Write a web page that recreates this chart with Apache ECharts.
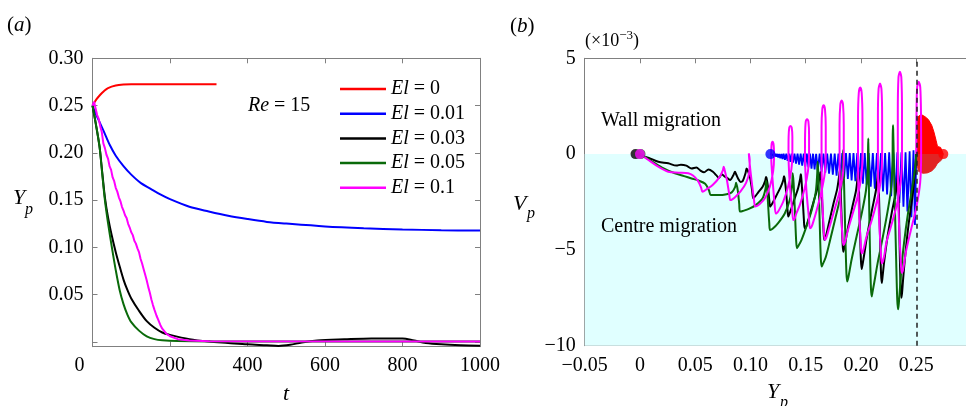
<!DOCTYPE html>
<html>
<head>
<meta charset="utf-8">
<script src="https://cdn.jsdelivr.net/npm/echarts@6/dist/echarts.min.js"></script>
<style>
html, body { margin: 0; padding: 0; background: #fff; }
#main { width: 966px; height: 406px; }
</style>
</head>
<body>
<div id="main"></div>
<script>
// series names / colours (shared by both panels)
var names = ['El = 0', 'El = 0.01', 'El = 0.03', 'El = 0.05', 'El = 0.1'];
var colors = ['#ff0000', '#0000ff', '#000000', '#0a6a0a', '#ff00ff'];

// panel (a): [t, Yp]
var aEl0 = [[0,0.250],[10,0.2565],[20,0.2615],[30,0.2655],[40,0.2685],[60,0.2712],[80,0.2722],[100,0.2725],[200,0.2726],[320,0.2726]];
var aEl001 = [[0,0.250],[5,0.245],[10,0.240],[20,0.231],[30,0.222],[45,0.208],[60,0.197],[80,0.186],[100,0.177],[125,0.168],[150,0.162],[175,0.156],[200,0.151],[250,0.143],[300,0.138],[350,0.1335],[400,0.130],[450,0.127],[500,0.1252],[600,0.1222],[700,0.1203],[800,0.119],[900,0.1182],[1000,0.1178]];
var aEl003 = [[0,0.250],[8,0.232],[18,0.207],[25,0.180],[32,0.153],[40,0.132],[50,0.112],[60,0.095],[70,0.080],[80,0.066],[90,0.055],[100,0.046],[120,0.033],[140,0.022],[160,0.015],[180,0.010],[200,0.0075],[250,0.003],[300,0.0005],[350,-0.001],[400,-0.0025],[450,-0.0035],[480,-0.0042],[510,-0.003],[540,-0.0005],[580,0.0015],[650,0.0028],[720,0.0038],[800,0.0038],[830,0.0015],[860,-0.001],[900,-0.0025],[950,-0.0035],[1000,-0.004]];
var aEl005 = [[0,0.250],[8,0.232],[18,0.207],[25,0.178],[32,0.150],[40,0.126],[50,0.100],[60,0.076],[70,0.055],[80,0.040],[90,0.029],[100,0.021],[120,0.012],[140,0.006],[160,0.003],[180,0.0018],[220,0.001],[300,0.0006],[1000,0.0005]];
var aEl01 = [[0,0.250],[4,0.254],[8,0.247],[12,0.240],[16,0.236],[20,0.228],[24,0.222],[28,0.210],[32,0.205],[36,0.198],[40,0.194],[44,0.186],[48,0.182],[52,0.174],[56,0.170],[60,0.163],[64,0.159],[68,0.153],[72,0.149],[76,0.143],[80,0.139],[84,0.134],[88,0.131],[92,0.125],[96,0.121],[100,0.116],[104,0.113],[108,0.107],[112,0.104],[116,0.099],[120,0.095],[124,0.088],[128,0.083],[132,0.077],[136,0.071],[140,0.065],[144,0.058],[148,0.052],[152,0.045],[156,0.039],[160,0.034],[165,0.028],[170,0.023],[175,0.018],[180,0.014],[190,0.009],[200,0.006],[220,0.003],[250,0.0015],[300,0.0008],[1000,0.0004]];

// panel (a) axis ticks
var aYTicks = [0, 0.05, 0.10, 0.15, 0.20, 0.25, 0.30];
var aYLabels = [0.05, 0.10, 0.15, 0.20, 0.25, 0.30];

// panel (b): [Yp, Vp x1e-3]
var bEl0Up = [[0.2500,0],[0.2503,1.2],[0.2508,1.85],[0.2525,2.0],[0.2550,2.05],[0.2580,1.95],[0.2610,1.8],[0.2640,1.5],[0.2660,1.15],[0.2680,0.7],[0.2692,0.4],[0.2705,0.3],[0.2720,0.35],[0.2735,0.25],[0.2745,0]];
var bEl0Low = [[0.2500,0],[0.2505,-0.5],[0.2520,-0.9],[0.2560,-1.0],[0.2600,-0.98],[0.2640,-0.88],[0.2670,-0.7],[0.2690,-0.5],[0.2710,-0.4],[0.2730,-0.3],[0.2745,0]];
var bEl001 = [[0.2500,0],[0.2488,-3.7],[0.2475,0.2],[0.2456,-3.3],[0.2440,0.15],[0.2420,-3.0],[0.2403,0.1],[0.2384,-2.75],[0.2366,0.1],[0.2347,-2.55],[0.2329,0.1],[0.2310,-2.35],[0.2292,0.1],[0.2273,-2.2],[0.2255,0.1],[0.2236,-2.1],[0.2218,0.05],[0.2199,-1.95],[0.2181,0.05],[0.2162,-1.85],[0.2144,0.05],[0.2125,-1.8],[0.2107,0.05],[0.2088,-1.7],[0.2070,0.05],[0.2051,-1.6],[0.2034,0.05],[0.2017,-1.55],[0.2000,0.05],[0.1983,-1.5],[0.1966,0.05],[0.1949,-1.42],[0.1932,0.05],[0.1915,-1.38],[0.1898,0.05],[0.1881,-1.3],[0.1864,0.05],[0.1847,-1.25],[0.1830,0.05],[0.1813,-1.18],[0.1796,0.03],[0.1779,-1.12],[0.1762,0.03],[0.1745,-1.08],[0.1728,0.03],[0.1711,-1.02],[0.1694,0.03],[0.1677,-0.97],[0.1660,0.03],[0.1643,-0.92],[0.1626,0.03],[0.1609,-0.86],[0.1594,0.02],[0.1580,-0.8],[0.1566,0.02],[0.1552,-0.76],[0.1538,0.02],[0.1524,-0.7],[0.1510,0.02],[0.1496,-0.65],[0.1482,0.02],[0.1468,-0.6],[0.1454,0.02],[0.1440,-0.55],[0.1426,0.02],[0.1412,-0.5],[0.1398,0.02],[0.1384,-0.45],[0.1372,0.02],[0.1360,-0.4],[0.1348,0.02],[0.1336,-0.35],[0.1324,0.02],[0.1312,-0.3],[0.1300,0.02],[0.1290,-0.26],[0.1280,0.01],[0.1270,-0.22],[0.1260,0.01],[0.1251,-0.18],[0.1242,0.01],[0.1233,-0.14],[0.1224,0.01],[0.1215,-0.1],[0.1206,0],[0.1197,-0.06],[0.1188,0],[0.1180,0]];
var bEl003 = [[0.2500,0],[0.2490,-0.8],[0.2468,-2.1],[0.2430,-3.7],[0.2400,-5.3],[0.2380,-6.6],
  [0.2372,-7.2],[0.2366,-7.5],[0.2359,-7.0],[0.2350,-5.0],[0.2342,-2.6],[0.2337,-1.3],[0.2335,-1.0],[0.2331,-1.3],[0.2315,-2.0],[0.2280,-3.0],[0.2240,-4.3],[0.2210,-5.6],[0.2195,-6.4],
  [0.2188,-6.73],[0.2181,-6.2],[0.2172,-4.3],[0.2163,-2.2],[0.2157,-1.1],[0.2155,-0.9],[0.2150,-1.2],[0.2135,-1.9],[0.2100,-2.9],[0.2060,-4.1],[0.2030,-5.2],[0.2013,-5.8],
  [0.2006,-6.0],[0.1999,-5.5],[0.1990,-3.8],[0.1982,-1.9],[0.1977,-1.05],[0.1975,-0.9],[0.1970,-1.2],[0.1955,-1.9],[0.1920,-2.8],[0.1880,-3.9],[0.1855,-4.7],
  [0.1840,-5.1],[0.1833,-4.6],[0.1824,-3.2],[0.1814,-1.6],[0.1810,-0.95],[0.1808,-0.85],[0.1803,-1.1],[0.1785,-1.8],[0.1750,-2.6],[0.1710,-3.6],[0.1682,-4.3],
  [0.1668,-4.48],[0.1661,-4.0],[0.1651,-2.8],[0.1640,-1.4],[0.1633,-0.95],[0.1630,-0.92],[0.1625,-1.2],[0.1605,-1.8],[0.1570,-2.5],[0.1530,-3.3],[0.1503,-3.8],
  [0.1490,-3.87],[0.1483,-3.4],[0.1473,-2.4],[0.1462,-1.4],[0.1457,-1.1],[0.1455,-1.05],[0.1449,-1.3],[0.1430,-1.8],[0.1395,-2.4],[0.1360,-3.0],
  [0.1342,-3.26],[0.1335,-2.9],[0.1323,-2.0],[0.1310,-1.3],[0.1303,-1.15],[0.1297,-1.35],[0.1275,-1.7],[0.1240,-2.1],[0.1200,-2.55],
  [0.1178,-2.74],[0.1170,-2.4],[0.1158,-1.7],[0.1145,-1.25],[0.1140,-1.2],[0.1133,-1.4],[0.1110,-1.7],[0.1070,-2.0],[0.1040,-2.22],
  [0.1025,-2.3],[0.1015,-1.9],[0.0995,-1.2],[0.0975,-0.85],[0.0965,-0.75],[0.0955,-1.0],[0.0930,-1.4],[0.0910,-1.45],[0.0890,-1.3],[0.0870,-1.05],[0.0860,-0.92],[0.0845,-1.1],[0.0815,-1.35],[0.0790,-1.25],[0.0768,-1.18],[0.0740,-1.05],[0.0715,-1.25],[0.0690,-1.1],[0.0660,-0.92],[0.0620,-0.8],[0.0580,-0.95],[0.0545,-0.85],[0.0510,-0.7],[0.0467,-0.75],[0.0420,-0.6],[0.0370,-0.55],[0.0330,-0.6],[0.0256,-0.48],[0.0166,-0.4],[0.0080,-0.2],[-0.0040,0]];
var bEl005 = [[0.2500,0],[0.2492,-0.6],[0.2465,-1.7],[0.2425,-3.1],[0.2390,-4.6],[0.2365,-6.0],[0.2350,-7.2],
  [0.2342,-7.8],[0.2336,-8.1],[0.2328,-7.6],[0.2318,-5.5],[0.2306,-2.5],[0.2296,0],[0.2291,1.3],[0.2289,1.5],[0.2287,1.0],[0.2284,-0.6],[0.2270,-1.9],[0.2240,-3.0],[0.2195,-4.4],[0.2150,-5.7],[0.2120,-6.7],
  [0.2104,-7.2],[0.2097,-7.43],[0.2090,-7.0],[0.2081,-5.0],[0.2072,-2.0],[0.2068,0],[0.2066,0.82],[0.2064,0.3],[0.2060,-0.9],[0.2045,-1.9],[0.2010,-3.0],[0.1960,-4.3],[0.1915,-5.5],[0.1890,-6.3],
  [0.1881,-6.55],[0.1875,-6.65],[0.1868,-6.2],[0.1858,-4.2],[0.1847,-1.6],[0.1840,-0.3],[0.1838,0.2],[0.1836,-0.3],[0.1830,-1.3],[0.1810,-2.3],[0.1770,-3.3],[0.1720,-4.5],[0.1680,-5.4],
  [0.1650,-5.8],[0.1643,-5.87],[0.1636,-5.4],[0.1626,-3.5],[0.1615,-1.2],[0.1608,-0.4],[0.1604,-1.0],[0.1590,-2.0],[0.1555,-2.9],[0.1505,-3.8],[0.1460,-4.5],
  [0.1427,-4.85],[0.1420,-4.91],[0.1413,-4.5],[0.1402,-3.0],[0.1390,-1.5],[0.1382,-1.0],[0.1377,-1.6],[0.1355,-2.4],[0.1310,-3.1],[0.1250,-3.6],[0.1200,-3.9],
  [0.1177,-3.96],[0.1170,-3.6],[0.1158,-2.5],[0.1148,-1.6],[0.1142,-1.4],[0.1136,-1.8],[0.1110,-2.3],[0.1050,-2.65],[0.0990,-2.85],[0.0930,-2.97],
  [0.0905,-3.0],[0.0898,-2.6],[0.0885,-1.9],[0.0870,-1.5],[0.0862,-1.7],[0.0830,-2.0],[0.0760,-2.12],[0.0680,-2.14],
  [0.0640,-2.14],[0.0625,-1.9],[0.0590,-1.55],[0.0530,-1.38],[0.0467,-1.27],[0.0400,-1.15],[0.0316,-1.0],[0.0200,-0.7],[0.0100,-0.35],[0.0005,0]];
var bEl01 = [[0.2500,0],[0.2502,2.0],[0.2508,3.5],[0.2522,3.77],[0.2536,3.5],[0.2543,2.0],[0.2544,0],[0.2535,-1.5],[0.2500,-2.8],[0.2450,-4.0],[0.2410,-5.0],
  [0.2393,-5.6],[0.2378,-6.1],[0.2368,-6.2],[0.2358,-5.4],[0.2340,-3.0],[0.2333,0],[0.2333,2.2],[0.2339,4.0],[0.2352,4.3],[0.2365,4.0],[0.2371,2.2],[0.2371,0],[0.2362,-1.3],[0.2330,-2.5],[0.2280,-3.6],[0.2230,-4.6],
  [0.2212,-5.25],[0.2198,-5.6],[0.2188,-5.7],[0.2178,-5.0],[0.2160,-2.8],[0.2153,0],[0.2153,2.0],[0.2159,3.4],[0.2172,3.68],[0.2185,3.4],[0.2191,2.0],[0.2191,0],[0.2182,-1.2],[0.2150,-2.3],[0.2100,-3.4],[0.2050,-4.3],
  [0.2030,-4.8],[0.2016,-5.1],[0.2006,-5.17],[0.1996,-4.5],[0.1979,-2.5],[0.1973,0],[0.1973,1.9],[0.1980,3.2],[0.1993,3.47],[0.2006,3.2],[0.2013,1.9],[0.2013,0],[0.2004,-1.1],[0.1970,-2.2],[0.1920,-3.2],[0.1880,-4.0],
  [0.1862,-4.45],[0.1849,-4.68],[0.1840,-4.74],[0.1830,-4.1],[0.1812,-2.2],[0.1806,0],[0.1806,1.5],[0.1813,2.6],[0.1825,2.8],[0.1837,2.6],[0.1844,1.5],[0.1844,0],[0.1835,-1.1],[0.1800,-2.1],[0.1750,-3.1],[0.1710,-3.9],
  [0.1695,-4.2],[0.1681,-4.42],[0.1672,-4.48],[0.1662,-3.9],[0.1648,-2.0],[0.1643,0],[0.1643,1.4],[0.1650,2.35],[0.1662,2.55],[0.1674,2.35],[0.1681,1.4],[0.1681,0],[0.1672,-1.0],[0.1640,-2.0],[0.1600,-2.9],[0.1570,-3.5],
  [0.1556,-3.75],[0.1546,-3.85],[0.1538,-3.87],[0.1528,-3.3],[0.1505,-1.8],[0.1493,0],[0.1494,1.0],[0.1500,1.7],[0.1512,1.82],[0.1524,1.7],[0.1530,1.0],[0.1530,0],[0.1520,-0.9],[0.1490,-1.8],[0.1450,-2.6],[0.1415,-3.1],
  [0.1403,-3.32],[0.1394,-3.42],[0.1387,-3.44],[0.1377,-2.9],[0.1355,-1.5],[0.1344,0],[0.1345,0.9],[0.1351,1.38],[0.1362,1.47],[0.1373,1.38],[0.1379,0.9],[0.1379,0],[0.1370,-0.8],[0.1340,-1.7],[0.1295,-2.5],[0.1255,-2.95],
  [0.1243,-3.05],[0.1235,-3.1],[0.1228,-3.1],[0.1218,-2.6],[0.1198,-1.2],[0.1188,-0.2],[0.1190,0.45],[0.1200,0.64],[0.1210,0.45],[0.1213,-0.2],[0.1205,-0.9],[0.1175,-1.7],[0.1130,-2.3],[0.1075,-2.65],
  [0.1055,-2.72],[0.1042,-2.74],[0.1032,-2.4],[0.1010,-1.4],[0.0990,-0.35],[0.0985,0.04],[0.0993,-0.3],[0.0990,-0.9],[0.0960,-1.5],[0.0910,-1.95],[0.0860,-2.25],
  [0.0835,-2.36],[0.0818,-2.4],[0.0808,-2.1],[0.0785,-1.3],[0.0765,-0.8],[0.0758,-0.66],[0.0750,-0.85],[0.0720,-1.2],[0.0660,-1.6],[0.0600,-1.85],
  [0.0575,-1.95],[0.0565,-1.96],[0.0553,-1.75],[0.0525,-1.4],[0.0480,-1.12],[0.0437,-1.0],[0.0350,-0.97],[0.0256,-0.92],[0.0150,-0.6],[0.0070,-0.28],[0,0]];

// final positions (dots) in panel (b)
var bEnds = [[0.2745,0],[0.1180,0],[-0.0040,0],[0.0005,0],[0,0]];
var wallLine = 0.25;
var centreBand = [-10, 0];

var FONT = '"Liberation Serif", "Times New Roman", Times, "DejaVu Serif", serif';
var GREY = '#808080';

var dom = document.getElementById('main');
var myChart = echarts.init(dom);

function frameAxis(extra) {
    var base = {
        type: 'value',
        axisLine: { show: true, onZero: false, lineStyle: { color: GREY, width: 1 } },
        axisTick: { show: true, inside: true, length: 5, lineStyle: { color: GREY } },
        axisLabel: { show: false },
        splitLine: { show: false }
    };
    return Object.assign(base, extra);
}
function labelStyle(extra) {
    return Object.assign({ show: true, color: '#000', fontFamily: FONT, fontSize: 20 }, extra);
}
function minus(s) { return s.replace('-', '\u2212'); }

var aData = [aEl0, aEl001, aEl003, aEl005, aEl01];
var bData = [null, bEl001, bEl003, bEl005, bEl01];

var series = [];
aData.forEach(function (d, i) {
    series.push({
        name: names[i], type: 'line', xAxisIndex: 0, yAxisIndex: 0,
        data: d, showSymbol: false, smooth: i === 4 ? false : 0.3,
        lineStyle: { color: colors[i], width: 2 }, itemStyle: { color: colors[i] }
    });
});

// background band
series.push({
    name: 'band', type: 'line', xAxisIndex: 2, yAxisIndex: 2, data: [], z: 0, silent: true,
    markArea: {
        silent: true,
        itemStyle: { color: '#e0ffff' },
        data: [[{ xAxis: -0.05, yAxis: centreBand[0] }, { xAxis: 0.3, yAxis: centreBand[1] }]]
    }
});

// El = 0 blob
series.push({
    name: 'b-El0-up', type: 'line', xAxisIndex: 2, yAxisIndex: 2, data: bEl0Up, showSymbol: false,
    lineStyle: { color: '#ff0000', width: 1 }, areaStyle: { color: '#ff0000', opacity: 1 }
});
series.push({
    name: 'b-El0-low', type: 'line', xAxisIndex: 2, yAxisIndex: 2, data: bEl0Low, showSymbol: false,
    lineStyle: { color: '#e12424', width: 1 }, areaStyle: { color: '#e12424', opacity: 1 }
});

for (var i = 1; i < 5; i++) {
    series.push({
        name: 'b-' + names[i], type: 'line', xAxisIndex: 2, yAxisIndex: 2,
        data: bData[i], showSymbol: false, smooth: i === 1 ? false : 0.3,
        lineStyle: { color: colors[i], width: i === 1 ? 1.8 : 2 }
    });
}
bEnds.forEach(function (p, i) {
    series.push({
        name: 'end-' + names[i], type: 'scatter', xAxisIndex: 2, yAxisIndex: 2,
        data: [p], symbolSize: 10, itemStyle: { color: colors[i] }, z: 3
    });
});

// dashed wall line
series.push({
    name: 'wall', type: 'line', xAxisIndex: 2, yAxisIndex: 2, data: [], z: 5, silent: true,
    markLine: {
        silent: true, symbol: 'none', label: { show: false },
        lineStyle: { color: '#222', width: 1.5, type: [5, 4] },
        data: [{ xAxis: wallLine }]
    }
});

function txt(x, y, text, size, italic, extra) {
    return {
        type: 'text', x: x, y: y, z: 10,
        style: Object.assign({
            text: text, fontFamily: FONT, fontSize: size, fill: '#000',
            fontStyle: italic ? 'italic' : 'normal', verticalAlign: 'middle'
        }, extra || {})
    };
}
var italicRich = function (size) {
    return { i: { fontStyle: 'italic', fontFamily: FONT, fontSize: size }, s: { fontFamily: FONT, fontSize: 13, verticalAlign: 'top', padding: [0, 0, 10, 0] } };
};

option = {
    animation: false,
    backgroundColor: '#fff',
    grid: [
        { left: 92.5, right: 486, top: 58.3, bottom: 59.3 },
        { left: 584.7, right: 0, top: 58.3, bottom: 60.3 }
    ],
    xAxis: [
        frameAxis({
            gridIndex: 0, min: 0, max: 1000, interval: 200, position: 'bottom',
            axisLabel: labelStyle({
                margin: 9,
                formatter: function (v) { return v === 0 ? '{z|0}' : String(v); },
                rich: { z: { fontFamily: FONT, fontSize: 20, padding: [0, 26, 0, 0] } }
            })
        }),
        frameAxis({ gridIndex: 0, min: 0, max: 1000, interval: 200, position: 'top' }),
        frameAxis({
            gridIndex: 1, min: -0.05, max: 0.295, interval: 0.05, position: 'bottom',
            axisLabel: labelStyle({
                margin: 10, showMaxLabel: false,
                formatter: function (v) { return Math.abs(v) < 1e-9 ? '0' : minus(v.toFixed(2)); }
            })
        }),
        frameAxis({ gridIndex: 1, min: -0.05, max: 0.295, interval: 0.05, position: 'top' })
    ],
    yAxis: [
        frameAxis({
            gridIndex: 0, min: -0.005, max: 0.3, position: 'left',
            axisTick: { show: true, inside: true, length: 5, lineStyle: { color: GREY }, customValues: aYTicks },
            axisLabel: labelStyle({ margin: 9, customValues: aYLabels, formatter: function (v) { return v.toFixed(2); } })
        }),
        frameAxis({
            gridIndex: 0, min: -0.005, max: 0.3, position: 'right',
            axisTick: { show: true, inside: true, length: 5, lineStyle: { color: GREY }, customValues: aYTicks }
        }),
        frameAxis({
            gridIndex: 1, min: -10, max: 5, interval: 5, position: 'left',
            axisLabel: labelStyle({ margin: 9, formatter: function (v) { return minus(String(v)); } })
        })
    ],
    legend: {
        data: names, orient: 'vertical', left: 335, top: 74,
        icon: 'rect', itemWidth: 46, itemHeight: 2.5, itemGap: 4.7,
        formatter: function (n) { return n.replace('El', '{i|El}'); },
        textStyle: { fontFamily: FONT, fontSize: 20, lineHeight: 20, color: '#000', rich: italicRich(20) }
    },
    graphic: [
        txt(7, 25, '({i|a})', 21, false, { rich: italicRich(21) }),
        txt(13, 198, 'Y', 22, true),
        txt(25, 210, 'p', 16, true),
        txt(283, 394, 't', 22, true),
        txt(248, 106, '{i|Re} = 15', 20, false, { rich: italicRich(20) }),
        txt(510, 26, '({i|b})', 21, false, { rich: italicRich(21) }),
        txt(585, 41, '(\u00d710{s|\u22123})', 18, false, { rich: italicRich(18) }),
        txt(513, 204, 'V', 22, true),
        txt(527, 214, 'p', 16, true),
        txt(767, 392, 'Y', 22, true),
        txt(780, 403, 'p', 16, true),
        txt(601, 120.5, 'Wall migration', 20, false),
        txt(601, 227, 'Centre migration', 20, false)
    ],
    series: series
};

if (option && typeof option === 'object') {
    myChart.setOption(option, true);
}
</script>
</body>
</html>
